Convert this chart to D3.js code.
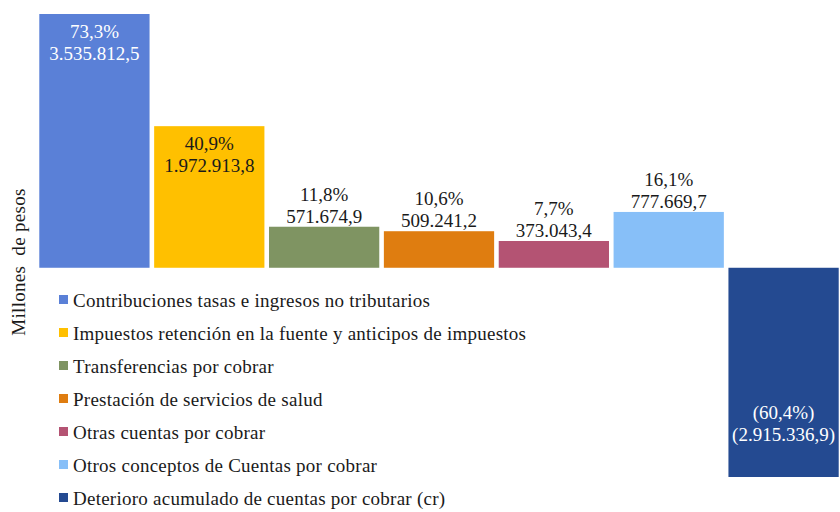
<!DOCTYPE html>
<html>
<head>
<meta charset="utf-8">
<script src="https://cdn.jsdelivr.net/npm/d3@7"></script>
<style>
  body { margin: 0; background: #fff; }
  svg text { font-family: "Liberation Serif", "Times New Roman", serif; }
</style>
</head>
<body>
<svg id="chart" width="840" height="512"></svg>
<script>
// categories, values (millones de pesos) and shares
var categories = [
    'Contribuciones tasas e ingresos no tributarios',
    'Impuestos retención en la fuente y anticipos de impuestos',
    'Transferencias por cobrar',
    'Prestación de servicios de salud',
    'Otras cuentas por cobrar',
    'Otros conceptos de Cuentas por cobrar',
    'Deterioro acumulado de cuentas por cobrar (cr)'
];
var values = [3535812.5, 1972913.8, 571674.9, 509241.2, 373043.4, 777669.7, -2915336.9];
var shares = [73.3, 40.9, 11.8, 10.6, 7.7, 16.1, -60.4];
var colors = ['#5A80D7', '#FFC000', '#7F9462', '#DF7D10', '#B45373', '#87BFF8', '#244A91'];

var svg = d3.select('#chart');
var width = 840, height = 512;

var x = d3.scaleBand()
    .domain(categories)
    .range([37, 841])
    .paddingInner(0.04)
    .paddingOuter(0.02);

var y = d3.scaleLinear()
    .domain([d3.min(values), d3.max(values)])
    .range([477, 14]);

// number formatting with es-CO style separators
var locale = d3.formatLocale({decimal: ',', thousands: '.', grouping: [3], currency: ['$', '']});
var fmtValue = locale.format(',.1f');
var fmtShare = locale.format('.1f');

function label(v, isShare){
    var s = isShare ? fmtShare(Math.abs(v)) + '%' : fmtValue(Math.abs(v));
    return v < 0 ? '(' + s + ')' : s;
}

var data = categories.map(function(c, i){
    return {cat: c, value: values[i], share: shares[i], color: colors[i], index: i};
});

// bars
svg.append('g')
    .selectAll('rect')
    .data(data)
    .enter()
    .append('rect')
    .attr('x', function(d){ return x(d.cat); })
    .attr('width', x.bandwidth())
    .attr('y', function(d){ return y(Math.max(0, d.value)); })
    .attr('height', function(d){ return Math.abs(y(d.value) - y(0)); })
    .style('fill', function(d){ return d.color; });

// data labels: inside end for the large bars, outside end for the small ones
var inside = [true, true, false, false, false, false, true];
var labelColor = ['#fff', '#1a1a1a', '#1a1a1a', '#1a1a1a', '#1a1a1a', '#1a1a1a', '#fff'];

var labels = svg.append('g')
    .selectAll('text')
    .data(data)
    .enter()
    .append('text')
    .attr('text-anchor', 'middle')
    .attr('font-size', 19)
    .style('fill', function(d){ return labelColor[d.index]; });

labels.each(function(d){
    var t = d3.select(this);
    var cx = x(d.cat) + x.bandwidth() / 2;
    var y1, y2;
    if(d.value < 0){
        y2 = y(d.value) - 36;
        y1 = y2 - 22;
    }
    else if(inside[d.index]){
        y1 = y(d.value) + 24;
        y2 = y1 + 22;
    }
    else{
        y2 = y(d.value) - 4;
        y1 = y2 - 22;
    }
    t.append('tspan').attr('x', cx).attr('y', y1).text(label(d.share, true));
    t.append('tspan').attr('x', cx).attr('y', y2).text(label(d.value, false));
});

// legend
var legend = svg.append('g')
    .selectAll('g')
    .data(data)
    .enter()
    .append('g')
    .attr('transform', function(d, i){ return 'translate(59,' + (295 + i * 33) + ')'; });

legend.append('rect')
    .attr('width', 9)
    .attr('height', 9)
    .style('fill', function(d){ return d.color; });

legend.append('text')
    .attr('x', 14)
    .attr('y', 11.5)
    .attr('font-size', 19)
    .style('letter-spacing', '0.25px')
    .style('fill', '#1a1a1a')
    .text(function(d){ return d.cat; });

// y axis title
svg.append('text')
    .attr('transform', 'translate(25,262) rotate(-90)')
    .attr('text-anchor', 'middle')
    .attr('font-size', 19)
    .style('letter-spacing', '0.3px')
    .style('fill', '#1a1a1a')
    .style('white-space', 'pre')
    .text('Millones  de pesos');
</script>
</body>
</html>
